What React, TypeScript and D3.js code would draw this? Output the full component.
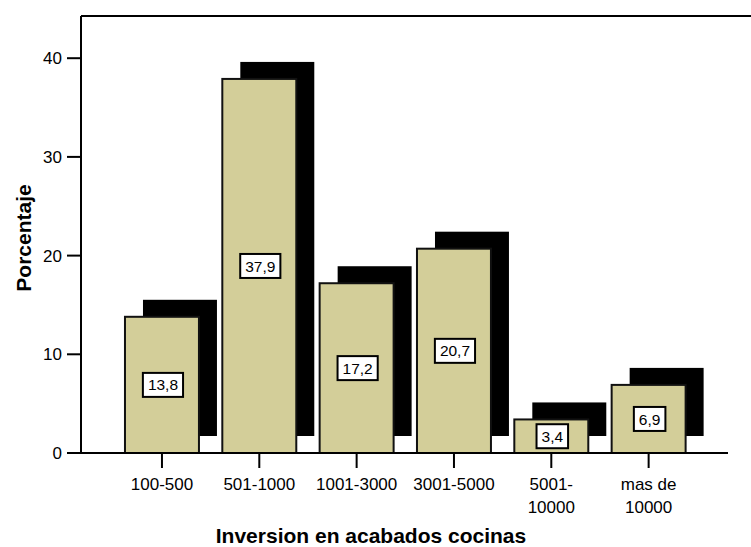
import React from "react";
import * as d3 from "d3";

const categories: string[][] = [
  ["100-500"],
  ["501-1000"],
  ["1001-3000"],
  ["3001-5000"],
  ["5001-", "10000"],
  ["mas de", "10000"],
];
const values: number[] = [13.8, 37.9, 17.2, 20.7, 3.4, 6.9];
const valueLabels: string[] = ["13,8", "37,9", "17,2", "20,7", "3,4", "6,9"];
const yTicks: number[] = [0, 10, 20, 30, 40];
const yTitle = "Porcentaje";
const xTitle = "Inversion en acabados cocinas";

const W = 751;
const H = 547;
const FONT = "'Liberation Sans', Arial, sans-serif";
const BAR_FILL = "#d3ce99";
const SHADOW_DX = 18;
const SHADOW_DY = -17;

const charW: Record<string, number> = { ",": 0.278, ".": 0.278 };
const textWidth = (s: string, size: number) =>
  s.split("").reduce((a, c) => a + (charW[c] ?? 0.556), 0) * size;

export default function App() {
  const keys = categories.map((c) => c.join(" "));
  const x = d3
    .scaleBand<string>()
    .domain(keys)
    .range([113.3, 697.3])
    .paddingInner(0.24)
    .paddingOuter(0.12);
  const y = d3.scaleLinear().domain([0, 40]).range([453, 58.2]);
  const left = 81;
  const top = 16;
  const base = y(0);

  return (
    <svg
      width={W}
      height={H}
      style={{ position: "absolute", left: 0, top: 0, display: "block", background: "#fff" }}
      fontFamily={FONT}
    >
      {/* frame */}
      <line x1={left} x2={W} y1={top} y2={top} stroke="#000" strokeWidth={2} />
      <line x1={left} x2={left} y1={top} y2={base} stroke="#000" strokeWidth={2} />

      {/* shadows */}
      {values.map((v, i) => (
        <rect
          key={"s" + i}
          x={(x(keys[i]) as number) + SHADOW_DX}
          y={y(v) + SHADOW_DY}
          width={x.bandwidth()}
          height={base - y(v)}
          fill="#000"
        />
      ))}
      {/* bars */}
      {values.map((v, i) => (
        <rect
          key={"b" + i}
          x={x(keys[i]) as number}
          y={y(v)}
          width={x.bandwidth()}
          height={base - y(v)}
          fill={BAR_FILL}
          stroke="#111"
          strokeWidth={2}
        />
      ))}
      {/* value labels */}
      {values.map((v, i) => {
        const cx = (x(keys[i]) as number) + x.bandwidth() / 2 + 1;
        const cy = y(v / 2);
        const w = textWidth(valueLabels[i], 15.5) + 10;
        return (
          <g key={"l" + i}>
            <rect x={cx - w / 2} y={cy - 12} width={w} height={24} fill="#fff" stroke="#000" strokeWidth={2} />
            <text x={cx} y={cy} dy="0.36em" textAnchor="middle" fontSize={15.5} fill="#000">
              {valueLabels[i]}
            </text>
          </g>
        );
      })}

      {/* baseline */}
      <line x1={left} x2={728} y1={base} y2={base} stroke="#000" strokeWidth={2} />

      {/* y ticks */}
      {yTicks.map((t) => (
        <g key={"yt" + t}>
          <line x1={67} x2={left} y1={y(t)} y2={y(t)} stroke="#000" strokeWidth={2} />
          <text x={62} y={y(t)} dy="0.36em" textAnchor="end" fontSize={17} fill="#000">
            {t}
          </text>
        </g>
      ))}

      {/* x ticks */}
      {categories.map((c, i) => {
        const cx = (x(keys[i]) as number) + x.bandwidth() / 2;
        return (
          <g key={"xt" + i}>
            <line x1={cx} x2={cx} y1={base} y2={468} stroke="#000" strokeWidth={2} />
            {c.map((line, j) => (
              <text key={j} x={cx} y={490 + j * 23} textAnchor="middle" fontSize={17} fill="#000">
                {line}
              </text>
            ))}
          </g>
        );
      })}

      {/* titles */}
      <text
        transform={`translate(31,238) rotate(-90)`}
        textAnchor="middle"
        fontSize={21}
        fontWeight="bold"
        fill="#000"
      >
        {yTitle}
      </text>
      <text x={371} y={543} textAnchor="middle" fontSize={21} fontWeight="bold" fill="#000">
        {xTitle}
      </text>
    </svg>
  );
}
